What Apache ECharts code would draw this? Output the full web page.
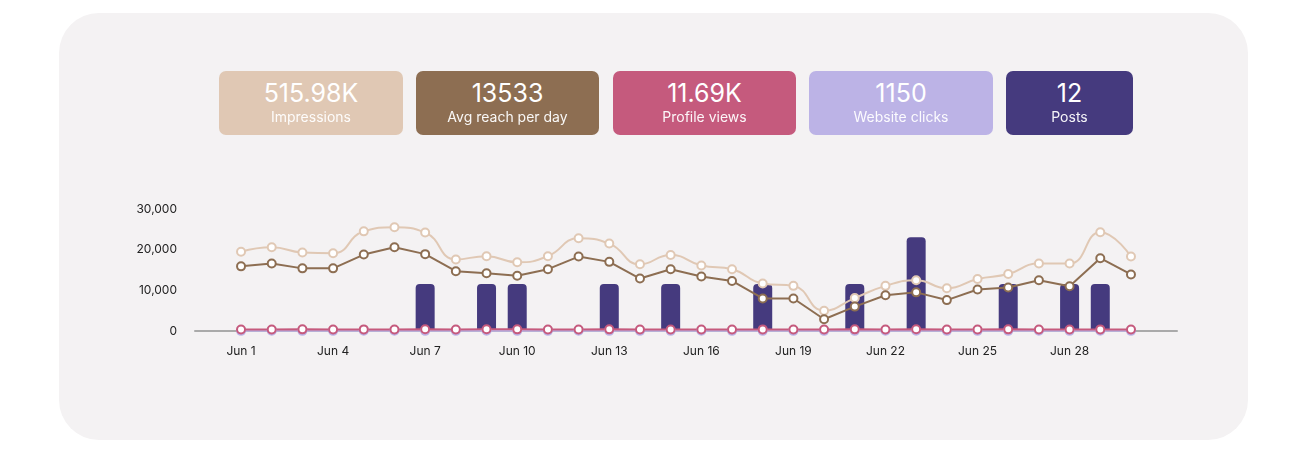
<!DOCTYPE html>
<html>
<head>
<meta charset="utf-8">
<script src="https://cdn.jsdelivr.net/npm/echarts@6/dist/echarts.min.js"></script>
<style>
  body{margin:0;background:#fff;font-family:Inter,"Noto Sans",sans-serif;}
  .panel{position:absolute;left:59px;top:13px;width:1189px;height:427px;background:#f4f2f3;border-radius:40px;}
  .card{position:absolute;top:71px;height:64px;border-radius:7px;color:#fff;text-align:center;}
  .card .v{font-size:25px;margin-top:8px;line-height:28px;}
  .card .l{font-size:14px;line-height:20px;opacity:.95;}
  .main{position:absolute;left:0;top:0;width:1306px;height:463px;}
</style>
</head>
<body>
<div class="panel"></div>
<div class="main"></div>
<script>
var days = [];
for (var d = 1; d <= 30; d++) days.push(d);
var impressions = [19500,20600,19300,19100,24500,25500,24200,17600,18400,16900,18400,22800,21500,16400,18700,
                   16100,15200,11700,11100,5000,8100,11100,12500,10500,12800,14000,16600,16600,24300,18300];
var reach = [15900,16600,15400,15400,18800,20600,18900,14700,14200,13600,15200,18300,17000,12900,15200,
             13400,12300,8000,8000,2900,6000,8800,9500,7600,10200,10700,12500,11000,17900,13900];
var profileViews = [390,380,400,390,395,385,420,380,410,400,370,390,400,380,390,
                    385,380,395,390,370,400,390,410,380,390,400,385,390,395,380];
var websiteClicks = [38,40,36,37,42,41,39,35,40,38,37,41,39,36,38,40,37,39,38,35,39,40,41,37,38,39,40,38,42,36];
var posts = [0,0,0,0,0,0,1,0,1,1,0,0,1,0,1,0,0,1,0,0,1,0,2,0,0,1,0,1,1,0];
var cards = [
  ['515.98K','Impressions','#e0c8b4',219,184],
  ['13533','Avg reach per day','#8d6e52',416,183],
  ['11.69K','Profile views','#c55a7d',613,183],
  ['1150','Website clicks','#bcb3e6',809,184],
  ['12','Posts','#453a7e',1006,127]
];
cards.forEach(function(c){
  var el = document.createElement('div');
  el.className = 'card';
  el.style.left = c[3] + 'px'; el.style.width = c[4] + 'px'; el.style.background = c[2];
  el.innerHTML = '<div class="v">' + c[0] + '</div><div class="l">' + c[1] + '</div>';
  document.body.appendChild(el);
});

function pairs(arr){ return arr.map(function(v, i){ return [days[i], v]; }); }
function lineSeries(name, data, color, smooth){
  return {
    name: name, type: 'line', data: pairs(data), smooth: smooth,
    symbol: 'circle', symbolSize: 8,
    lineStyle: {color: color, width: 2},
    itemStyle: {color: '#fff', borderColor: color, borderWidth: 2}
  };
}
var myChart = echarts.init(document.querySelector('.main'));
myChart.setOption({
  textStyle: {fontFamily: 'Inter, "Noto Sans", sans-serif'},
  grid: {left: 195, right: 129, top: 209, bottom: 132},
  xAxis: {
    type: 'value', min: -0.5, max: 31.5, interval: 0.5,
    splitLine: {show: false}, axisTick: {show: false},
    axisLine: {lineStyle: {color: '#aaa', width: 2}},
    axisLabel: {
      color: '#222', fontSize: 12, margin: 14, showMinLabel: false, showMaxLabel: false,
      formatter: function(v){ return (Number.isInteger(v) && v >= 1 && v <= 30 && (v - 1) % 3 === 0) ? 'Jun ' + v : ''; }
    }
  },
  yAxis: [{
    type: 'value', min: 0, max: 30000, interval: 10000,
    splitLine: {show: false}, axisLine: {show: false}, axisTick: {show: false},
    axisLabel: {color: '#222', fontSize: 12, margin: 18}
  }, {
    type: 'value', min: 0, max: 2.6, show: false
  }],
  series: [
    {
      name: 'Posts', type: 'bar', yAxisIndex: 1, data: pairs(posts), barWidth: 19,
      itemStyle: {color: '#453a7e', borderRadius: [4,4,0,0]}
    },
    lineSeries('Impressions', impressions, '#e0c8b4', true),
    lineSeries('Reach', reach, '#8d6e52', false),
    lineSeries('Website clicks', websiteClicks, '#bcb3e6', false),
    lineSeries('Profile views', profileViews, '#c55a7d', false)
  ]
});
</script>
</body>
</html>
